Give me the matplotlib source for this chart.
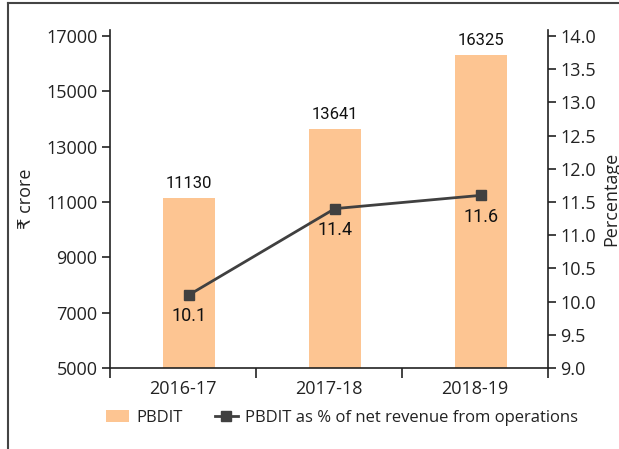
import matplotlib.pyplot as plt
from matplotlib.lines import Line2D
import numpy as np

# chart data
years = ["2016-17", "2017-18", "2018-19"]
pbdit = [11130, 13641, 16325]
pbdit_pct = [10.1, 11.4, 11.6]

plt.rcParams["font.family"] = ["Open Sans", "DejaVu Sans"]

BAR_COLOR = "#fdc592"
LINE_COLOR = "#404040"
TEXT_COLOR = "#222222"
NARROW = ["Roboto", "DejaVu Sans"]

fig = plt.figure(figsize=(6.19, 4.49), dpi=100)
ax = fig.add_axes([110 / 619, 1 - 368 / 449, 438 / 619, 338 / 449])

x = np.arange(len(years))
bars = ax.bar(x + 0.04, pbdit, width=0.36, color=BAR_COLOR, label="PBDIT", zorder=2)
ax.bar_label(bars, labels=[str(v) for v in pbdit], padding=5, fontsize=12,
             family=NARROW, color="#111111")

ax.set_xlim(-0.5, 2.5)
ax.set_ylim(5000, 17217)
ax.set_yticks(range(5000, 17001, 2000))
ax.set_xticks(x)
ax.set_xticklabels(years)
ax.set_xticks([-0.5, 0.5, 1.5, 2.5], minor=True)
ax.tick_params(axis="x", which="major", length=0, pad=9, labelsize=13, colors=TEXT_COLOR)
ax.tick_params(axis="x", which="minor", length=7.5, width=1.2, direction="out", color=TEXT_COLOR)
ax.tick_params(axis="y", length=6, width=1.2, pad=3, labelsize=13, colors=TEXT_COLOR)
ax.set_ylabel("₹ crore", fontsize=13, color=TEXT_COLOR, labelpad=8)
for s in ["top", "right"]:
    ax.spines[s].set_visible(False)
for s in ["left", "bottom"]:
    ax.spines[s].set_linewidth(1.2)
    ax.spines[s].set_color(TEXT_COLOR)

ax2 = ax.twinx()
line, = ax2.plot(x + 0.04, pbdit_pct, color=LINE_COLOR, lw=2, marker="s", markersize=7,
                 label="PBDIT as % of net revenue from operations", zorder=3)
for xi, v in zip(x, pbdit_pct):
    ax2.annotate(f"{v:.1f}", (xi + 0.04, v), xytext=(0, -9), textcoords="offset points",
                 ha="center", va="top", fontsize=13, family=NARROW, color="#111111")
ax2.set_ylim(9.0, 14.09)
ax2.set_yticks(np.arange(9.0, 14.01, 0.5))
ax2.set_yticklabels([f"{v:.1f}" for v in np.arange(9.0, 14.01, 0.5)])
ax2.tick_params(axis="y", length=6, width=1.2, pad=3, labelsize=13, colors=TEXT_COLOR)
ax2.set_ylabel("Percentage", fontsize=13, color=TEXT_COLOR, labelpad=4)
for s in ["top", "left", "bottom"]:
    ax2.spines[s].set_visible(False)
ax2.spines["right"].set_linewidth(1.2)
ax2.spines["right"].set_color(TEXT_COLOR)

fig.legend(handles=[bars, line], loc="center", bbox_to_anchor=(342 / 619, 1 - 418 / 449),
           ncol=2, frameon=False, fontsize=12, handlelength=1.4, columnspacing=1.9,
           handletextpad=0.45, labelcolor=TEXT_COLOR)

# outer frame (top and left edges)
fig.add_artist(Line2D([8 / 619, 1], [1 - 3 / 449, 1 - 3 / 449], color="#444444", lw=1.5))
fig.add_artist(Line2D([8 / 619, 8 / 619], [0, 1 - 3 / 449], color="#444444", lw=1.5))

fig.savefig("out.png", dpi=100)
